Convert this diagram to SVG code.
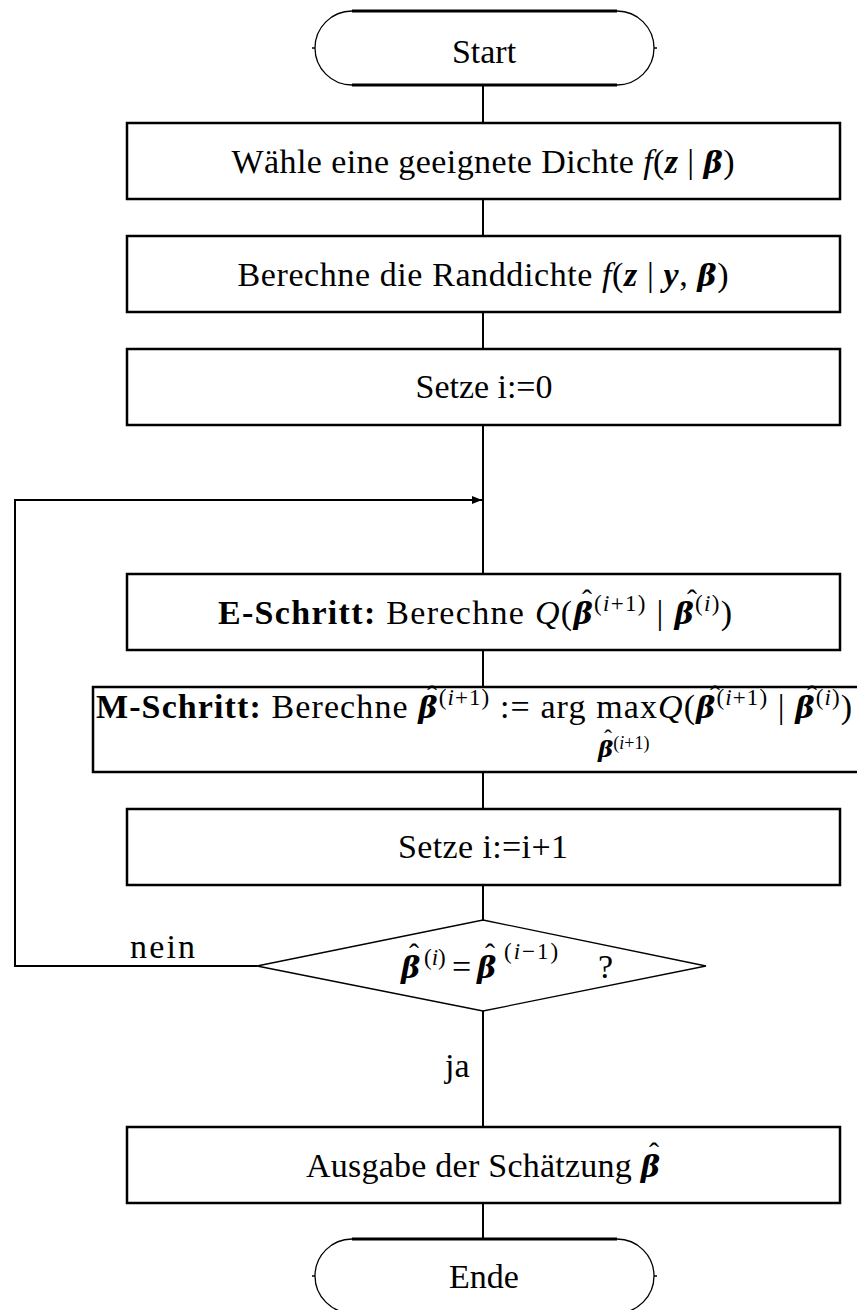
<svg xmlns="http://www.w3.org/2000/svg" width="857" height="1310" viewBox="0 0 857 1310">
<style>
.bx{fill:#fff;stroke:#000;stroke-width:2.5}
.ln{fill:none;stroke:#000;stroke-width:2}
.arc{fill:none;stroke:#000;stroke-width:1.3}
.thk{fill:none;stroke:#000;stroke-width:2.8}
.dm{fill:#fff;stroke:#000;stroke-width:1.3}
.t{font-family:"Liberation Serif","Times New Roman",serif;font-size:34px;fill:#000}
.c{text-anchor:middle}
.i{font-style:italic}
.b{font-weight:bold}
.bi{font-style:italic;font-weight:bold}
.gk{font-family:"DejaVu Serif",serif;font-style:italic;font-weight:bold;font-size:29px}
.sp{font-size:23px}
.hat{font-family:"Liberation Serif","Times New Roman",serif;font-size:30px;text-anchor:middle;fill:#000}
</style>
<defs>
<marker id="ah" markerWidth="10" markerHeight="8" refX="10" refY="4" orient="auto" markerUnits="userSpaceOnUse"><path d="M0,0 L10,4 L0,8 Z" fill="#000"/></marker>
</defs>
<rect width="857" height="1310" fill="#fff"/>
<g id="connectors">
<line class="ln" x1="483" y1="85" x2="483" y2="123"/>
<line class="ln" x1="483" y1="199" x2="483" y2="236"/>
<line class="ln" x1="483" y1="312" x2="483" y2="349"/>
<line class="ln" x1="483" y1="425" x2="483" y2="574"/>
<line class="ln" x1="483" y1="650" x2="483" y2="687"/>
<line class="ln" x1="483" y1="772" x2="483" y2="809"/>
<line class="ln" x1="483" y1="885" x2="483" y2="920"/>
<line class="ln" x1="483" y1="1011" x2="483" y2="1127"/>
<line class="ln" x1="483" y1="1203" x2="483" y2="1239"/>
<path class="ln" d="M257,966 H15 V500 H482" marker-end="url(#ah)"/>
<text class="t" x="130" y="958" textLength="65">nein</text>
<text class="t" x="445" y="1077">ja</text>
</g>
<g id="start">
<path class="thk" d="M352,11 H617 M352,85 H617"/>
<path class="arc" d="M352,11 A37,37 0 0 0 352,85 M617,11 A37,37 0 0 1 617,85 M312,48 H315 M654,48 H657"/>
<text class="t c" x="484" y="63">Start</text>
</g>
<g id="dichte">
<rect class="bx" x="127" y="123" width="713" height="76"/>
<text class="t c" x="483" y="173" textLength="503">Wähle eine geeignete Dichte <tspan class="i">f</tspan>(<tspan class="bi">z</tspan> | <tspan class="gk">β</tspan>)</text>
</g>
<g id="randdichte">
<rect class="bx" x="127" y="236" width="713" height="76"/>
<text class="t c" x="483" y="286" textLength="491">Berechne die Randdichte <tspan class="i">f</tspan>(<tspan class="bi">z</tspan> | <tspan class="bi">y</tspan>, <tspan class="gk">β</tspan>)</text>
</g>
<g id="init">
<rect class="bx" x="127" y="349" width="713" height="76"/>
<text class="t c" x="484" y="398" textLength="137">Setze i:=0</text>
</g>
<g id="estep">
<rect class="bx" x="127" y="574" width="713" height="76"/>
<text class="t c" x="475" y="624" textLength="514"><tspan class="b">E-Schritt:</tspan> Berechne <tspan class="i">Q</tspan>(<tspan class="gk">β</tspan><tspan class="sp" dy="-13">(<tspan class="i">i</tspan>+1)</tspan><tspan dy="13"> | </tspan><tspan class="gk">β</tspan><tspan class="sp" dy="-13">(<tspan class="i">i</tspan>)</tspan><tspan dy="13">)</tspan></text>
<text class="hat" x="587" y="610">ˆ</text>
<text class="hat" x="692" y="610">ˆ</text>
</g>
<g id="mstep">
<rect class="bx" x="93" y="687" width="775" height="85"/>
<text class="t" x="96" y="718" textLength="756"><tspan class="b">M-Schritt:</tspan> Berechne <tspan class="gk">β</tspan><tspan class="sp" dy="-13">(<tspan class="i">i</tspan>+1)</tspan><tspan dy="13"> := arg </tspan>max<tspan class="i">Q</tspan>(<tspan class="gk">β</tspan><tspan class="sp" dy="-13">(<tspan class="i">i</tspan>+1)</tspan><tspan dy="13"> | </tspan><tspan class="gk">β</tspan><tspan class="sp" dy="-13">(<tspan class="i">i</tspan>)</tspan><tspan dy="13">)</tspan></text>
<text class="hat" x="432" y="706">ˆ</text>
<text class="hat" x="715" y="706">ˆ</text>
<text class="hat" x="812" y="706">ˆ</text>
<text class="t" x="598" y="757"><tspan class="gk" style="font-size:23px">β</tspan><tspan style="font-size:18px" dy="-8">(<tspan class="i">i</tspan>+1)</tspan></text>
<text class="hat" x="608" y="746" style="font-size:24px">ˆ</text>
</g>
<g id="incr">
<rect class="bx" x="127" y="809" width="713" height="76"/>
<text class="t c" x="483" y="858" textLength="170">Setze i:=i+1</text>
</g>
<g id="check">
<polygon class="dm" points="483,920 706,966 483,1011 257,966"/>
<text class="t" y="978"><tspan class="gk" x="401">β</tspan><tspan class="sp" x="424" dy="-13">(<tspan class="i">i</tspan>)</tspan><tspan x="452" dy="13">=</tspan><tspan class="gk" x="477">β</tspan><tspan class="sp" x="504" dy="-19" letter-spacing="2">(<tspan class="i">i</tspan>−1)</tspan><tspan x="598" dy="19">?</tspan></text>
<text class="hat" x="414" y="964">ˆ</text>
<text class="hat" x="490" y="964">ˆ</text>
</g>
<g id="output">
<rect class="bx" x="127" y="1127" width="713" height="76"/>
<text class="t c" x="483" y="1177" textLength="354">Ausgabe der Schätzung <tspan class="gk">β</tspan></text>
<text class="hat" x="654" y="1163">ˆ</text>
</g>
<g id="ende">
<path class="thk" d="M352,1239 H617"/>
<path class="arc" d="M352,1239 A37,37 0 0 0 352,1313 M617,1239 A37,37 0 0 1 617,1313 M312,1276 H315 M654,1276 H657"/>
<text class="t c" x="484" y="1288">Ende</text>
</g>
</svg>
